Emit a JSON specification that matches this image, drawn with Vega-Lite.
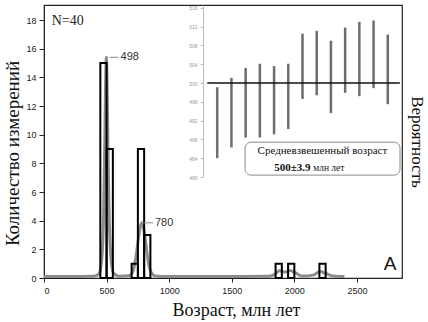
{
  "$schema": "https://vega.github.io/schema/vega-lite/v6.json",
  "width": 358,
  "height": 273,
  "autosize": {"type": "none"},
  "padding": {"left": 44, "top": 5, "right": 26, "bottom": 44},
  "background": "white",
  "config": {
    "view": {"stroke": "#222", "strokeWidth": 1.2},
    "axis": {"grid": false, "labelFont": "Liberation Sans", "labelColor": "#222", "tickColor": "#222", "domainColor": "#222", "titleFontWeight": "normal", "titleColor": "#111"}
  },
  "datasets": {
    "hist": [
      {"start": 450, "end": 500, "count": 15},
      {"start": 500, "end": 550, "count": 9},
      {"start": 700, "end": 750, "count": 1},
      {"start": 750, "end": 800, "count": 9},
      {"start": 800, "end": 850, "count": 3},
      {"start": 1850, "end": 1900, "count": 1},
      {"start": 1950, "end": 2000, "count": 1},
      {"start": 2200, "end": 2250, "count": 1}
    ],
    "pdf": [
      {"age": 0, "p": 0.1}, {"age": 200, "p": 0.1}, {"age": 400, "p": 0.12},
      {"age": 440, "p": 0.3}, {"age": 460, "p": 1.2}, {"age": 475, "p": 4},
      {"age": 485, "p": 9}, {"age": 492, "p": 13.5}, {"age": 498, "p": 15.4},
      {"age": 504, "p": 13.5}, {"age": 511, "p": 9}, {"age": 520, "p": 4.5},
      {"age": 535, "p": 1.4}, {"age": 555, "p": 0.35}, {"age": 600, "p": 0.12},
      {"age": 680, "p": 0.15}, {"age": 712, "p": 0.5}, {"age": 735, "p": 1.5},
      {"age": 755, "p": 2.8}, {"age": 770, "p": 3.6}, {"age": 782, "p": 3.85},
      {"age": 795, "p": 3.5}, {"age": 812, "p": 2.5}, {"age": 832, "p": 1.2},
      {"age": 855, "p": 0.4}, {"age": 890, "p": 0.14}, {"age": 1000, "p": 0.1},
      {"age": 1500, "p": 0.1}, {"age": 1800, "p": 0.12}, {"age": 1850, "p": 0.3},
      {"age": 1880, "p": 0.5}, {"age": 1925, "p": 0.42}, {"age": 1965, "p": 0.52},
      {"age": 2010, "p": 0.35}, {"age": 2060, "p": 0.14}, {"age": 2150, "p": 0.2},
      {"age": 2205, "p": 0.45}, {"age": 2255, "p": 0.3}, {"age": 2310, "p": 0.14},
      {"age": 2400, "p": 0.1}
    ],
    "leaders": [
      {"x": 525, "x2": 592, "y": 15.4},
      {"x": 792, "x2": 872, "y": 3.85}
    ],
    "labels": [
      {"x": 612, "y": 15.4, "t": "498"},
      {"x": 886, "y": 3.85, "t": "780"}
    ],
    "inset": [
      {"i": 1, "lo": 484.0, "hi": 499.1},
      {"i": 2, "lo": 486.3, "hi": 501.1},
      {"i": 3, "lo": 488.4, "hi": 503.2},
      {"i": 4, "lo": 488.4, "hi": 504.1},
      {"i": 5, "lo": 489.1, "hi": 503.6},
      {"i": 6, "lo": 490.2, "hi": 504.1},
      {"i": 7, "lo": 496.6, "hi": 510.5},
      {"i": 8, "lo": 497.4, "hi": 511.1},
      {"i": 9, "lo": 493.6, "hi": 509.0},
      {"i": 10, "lo": 497.9, "hi": 511.8},
      {"i": 11, "lo": 497.2, "hi": 513.0},
      {"i": 12, "lo": 498.9, "hi": 513.3},
      {"i": 13, "lo": 495.5, "hi": 510.3}
    ]
  },
  "layer": [
    {
      "data": {"name": "pdf"},
      "mark": {"type": "line", "color": "#8c8c8c", "strokeWidth": 3, "interpolate": "monotone"},
      "encoding": {
        "x": {"field": "age", "type": "quantitative", "scale": {"domain": [0, 2860], "nice": false}, "axis": null},
        "y": {"field": "p", "type": "quantitative", "scale": {"domain": [0, 19.05], "nice": false},
          "axis": {"orient": "right", "title": "Вероятность", "labels": false, "ticks": false, "domain": false, "titleAngle": 90, "titleFont": "Liberation Serif", "titleFontSize": 17, "titlePadding": 5}}
      }
    },
    {
      "layer": [
        {
          "data": {"name": "hist"},
          "mark": {"type": "rect", "fill": "white", "fillOpacity": 0, "stroke": "#000", "strokeWidth": 2},
          "encoding": {
            "x": {"field": "start", "type": "quantitative", "scale": {"domain": [0, 2860], "nice": false},
              "axis": {"orient": "bottom", "values": [0, 500, 1000, 1500, 2000, 2500], "format": "d", "labelOverlap": false, "labelFontSize": 9, "tickSize": 4, "labelPadding": 4, "title": "Возраст, млн лет", "titleFont": "Liberation Serif", "titleFontSize": 18, "titlePadding": 6, "titleX": 192}},
            "x2": {"field": "end"},
            "y": {"field": "count", "type": "quantitative", "scale": {"domain": [0, 19.05], "nice": false},
              "axis": {"orient": "left", "tickCount": 10, "values": [0, 2, 4, 6, 8, 10, 12, 14, 16, 18], "format": "d", "labelOverlap": false, "labelSeparation": 0, "labelFontSize": 9, "tickSize": 5, "labelPadding": 3, "title": "Количество измерений", "titleFont": "Liberation Serif", "titleFontSize": 19, "titlePadding": 3, "titleY": 148}},
            "y2": {"datum": 0}
          }
        },
        {
          "data": {"name": "leaders"},
          "mark": {"type": "rule", "color": "#888", "strokeWidth": 1},
          "encoding": {
            "x": {"field": "x", "type": "quantitative"},
            "x2": {"field": "x2"},
            "y": {"field": "y", "type": "quantitative"}
          }
        },
        {
          "data": {"name": "labels"},
          "mark": {"type": "text", "align": "left", "baseline": "middle", "font": "Liberation Sans", "fontSize": 11, "color": "#333"},
          "encoding": {
            "x": {"field": "x", "type": "quantitative"},
            "y": {"field": "y", "type": "quantitative"},
            "text": {"field": "t"}
          }
        },
        {
          "data": {"values": [{"x": 62, "y": 17.9, "t": "N=40"}]},
          "mark": {"type": "text", "align": "left", "baseline": "middle", "font": "Liberation Serif", "fontSize": 14, "color": "#222"},
          "encoding": {
            "x": {"field": "x", "type": "quantitative"},
            "y": {"field": "y", "type": "quantitative"},
            "text": {"field": "t"}
          }
        },
        {
          "data": {"values": [{"x": 2765, "y": 0.95, "t": "A"}]},
          "mark": {"type": "text", "align": "center", "baseline": "middle", "font": "Liberation Sans", "fontSize": 19, "color": "#111"},
          "encoding": {
            "x": {"field": "x", "type": "quantitative"},
            "y": {"field": "y", "type": "quantitative"},
            "text": {"field": "t"}
          }
        }
      ]
    },
    {
      "layer": [
        {
          "data": {"name": "inset"},
          "mark": {"type": "rule", "color": "#6e6e6e", "strokeWidth": 2.5},
          "encoding": {
            "x": {"field": "i", "type": "quantitative", "scale": {"domain": [0, 14], "range": [159, 358], "nice": false}, "axis": null},
            "y": {"field": "lo", "type": "quantitative", "scale": {"domain": [480, 516.6], "range": [172, 0], "nice": false, "zero": false},
              "axis": {"orient": "left", "offset": -159, "tickCount": 10, "values": [480, 484, 488, 492, 496, 500, 504, 508, 512, 516], "format": "d", "labelOverlap": false, "labelSeparation": 0, "labelFontSize": 5, "labelColor": "#999", "tickColor": "#bbb", "domainColor": "#bbb", "tickSize": 3, "labelPadding": 3, "title": null}},
            "y2": {"field": "hi"}
          }
        },
        {
          "data": {"values": [{"a": 0.3, "b": 13.85, "v": 500}]},
          "mark": {"type": "rule", "color": "#111", "strokeWidth": 1.5},
          "encoding": {
            "x": {"field": "a", "type": "quantitative"},
            "x2": {"field": "b"},
            "y": {"field": "v", "type": "quantitative"}
          }
        },
        {
          "data": {"values": [{"a": 2.96, "b": 13.86, "lo": 480.4, "hi": 487.4}]},
          "mark": {"type": "rect", "fill": "white", "stroke": "#888", "strokeWidth": 1, "cornerRadius": 6},
          "encoding": {
            "x": {"field": "a", "type": "quantitative"},
            "x2": {"field": "b"},
            "y": {"field": "lo", "type": "quantitative"},
            "y2": {"field": "hi"}
          }
        },
        {
          "data": {"values": [{"x": 8.4, "y": 485.6, "t": "Средневзвешенный возраст"}]},
          "mark": {"type": "text", "align": "center", "baseline": "middle", "font": "Liberation Serif", "fontSize": 11, "color": "#111"},
          "encoding": {
            "x": {"field": "x", "type": "quantitative"},
            "y": {"field": "y", "type": "quantitative"},
            "text": {"field": "t"}
          }
        },
        {
          "data": {"values": [{"x": 7.56, "y": 482.0, "t": "500±3.9"}]},
          "mark": {"type": "text", "align": "right", "baseline": "middle", "font": "Liberation Serif", "fontSize": 11, "fontWeight": "bold", "color": "#111"},
          "encoding": {
            "x": {"field": "x", "type": "quantitative"},
            "y": {"field": "y", "type": "quantitative"},
            "text": {"field": "t"}
          }
        },
        {
          "data": {"values": [{"x": 7.75, "y": 482.0, "t": "млн лет"}]},
          "mark": {"type": "text", "align": "left", "baseline": "middle", "font": "Liberation Serif", "fontSize": 9.5, "color": "#222"},
          "encoding": {
            "x": {"field": "x", "type": "quantitative"},
            "y": {"field": "y", "type": "quantitative"},
            "text": {"field": "t"}
          }
        }
      ]
    }
  ],
  "resolve": {"scale": {"x": "independent", "y": "independent"}, "axis": {"x": "independent", "y": "independent"}}
}
